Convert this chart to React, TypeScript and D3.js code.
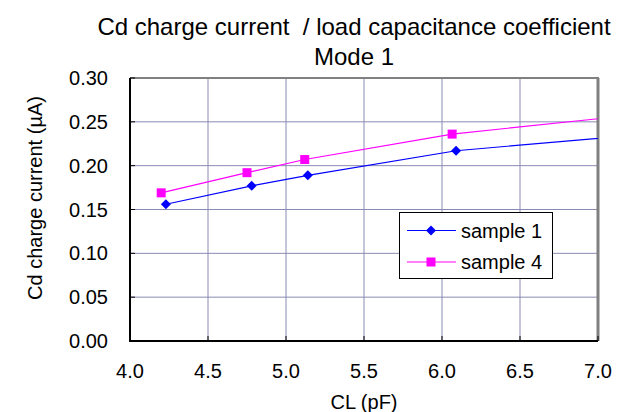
import { useEffect, useRef } from "react"
import * as d3 from "d3"

// CL (pF) values and charge currents (µA)
const sample1X = [4.23, 4.78, 5.14, 6.09, 8.2]
const sample1Y = [0.156, 0.177, 0.189, 0.217, 0.250]
const sample4X = [4.2, 4.75, 5.12, 6.065, 8.2]
const sample4Y = [0.169, 0.192, 0.207, 0.236, 0.276]
const xTicks = [4.0, 4.5, 5.0, 5.5, 6.0, 6.5, 7.0]
const yTicks = [0.0, 0.05, 0.1, 0.15, 0.2, 0.25, 0.3]
const seriesNames = ["sample 1", "sample 4"]

const W = 629
const H = 412
const FONT = "'Liberation Sans', Arial, sans-serif"

export default function App() {
  const ref = useRef<SVGSVGElement>(null)

  useEffect(() => {
    const svg = d3.select(ref.current)
    svg.selectAll("*").remove()

    const left = 130, right = 598, top = 78, bottom = 341

    const x = d3.scaleLinear().domain([4, 7]).range([left, right])
    const y = d3.scaleLinear().domain([0, 0.3]).range([bottom, top])

    svg.append("rect").attr("width", W).attr("height", H).attr("fill", "#ffffff")

    svg.append("defs").append("clipPath")
      .attr("id", "plot-clip")
      .append("rect")
      .attr("x", left).attr("y", top)
      .attr("width", right - left).attr("height", bottom - top)

    // Title
    const title = svg.append("text")
      .attr("x", 354)
      .attr("text-anchor", "middle")
      .attr("font-family", FONT)
      .attr("font-size", 24)
      .attr("fill", "#000")
    title.append("tspan").attr("x", 354).attr("y", 35)
      .attr("xml:space", "preserve")
      .style("white-space", "pre")
      .text("Cd charge current  / load capacitance coefficient")
    title.append("tspan").attr("x", 354).attr("y", 65).text("Mode 1")

    // Gridlines
    const grid = svg.append("g").attr("stroke", "#8a8ab4").attr("stroke-width", 1)
    xTicks.slice(1, -1).forEach(t => {
      grid.append("line")
        .attr("x1", x(t)).attr("x2", x(t))
        .attr("y1", top).attr("y2", bottom)
    })
    yTicks.slice(1, -1).forEach(t => {
      grid.append("line")
        .attr("x1", left).attr("x2", right)
        .attr("y1", y(t)).attr("y2", y(t))
    })

    // Plot frame: gray top/right, black axes
    svg.append("line")
      .attr("x1", left).attr("x2", right + 1)
      .attr("y1", top).attr("y2", top)
      .attr("stroke", "#808080").attr("stroke-width", 2)
    svg.append("line")
      .attr("x1", right).attr("x2", right)
      .attr("y1", top).attr("y2", bottom)
      .attr("stroke", "#808080").attr("stroke-width", 3)
    svg.append("line")
      .attr("x1", left).attr("x2", right)
      .attr("y1", bottom).attr("y2", bottom)
      .attr("stroke", "#000").attr("stroke-width", 2)
    svg.append("line")
      .attr("x1", left).attr("x2", left)
      .attr("y1", top).attr("y2", bottom + 1)
      .attr("stroke", "#000").attr("stroke-width", 2)

    // Inward tick marks
    xTicks.forEach(t => {
      svg.append("line")
        .attr("x1", x(t)).attr("x2", x(t))
        .attr("y1", bottom).attr("y2", bottom - 5)
        .attr("stroke", "#000").attr("stroke-width", 1)
    })
    yTicks.forEach(t => {
      svg.append("line")
        .attr("x1", left).attr("x2", left + 5)
        .attr("y1", y(t)).attr("y2", y(t))
        .attr("stroke", "#000").attr("stroke-width", 1)
    })

    // Tick labels
    svg.append("g")
      .selectAll("text")
      .data(xTicks)
      .join("text")
      .attr("x", d => x(d))
      .attr("y", 378)
      .attr("text-anchor", "middle")
      .attr("font-family", FONT)
      .attr("font-size", 20)
      .text(d => d3.format(".1f")(d))

    svg.append("g")
      .selectAll("text")
      .data(yTicks)
      .join("text")
      .attr("x", 108)
      .attr("y", d => y(d) + 7)
      .attr("text-anchor", "end")
      .attr("font-family", FONT)
      .attr("font-size", 20)
      .text(d => d3.format(".2f")(d))

    // Axis titles
    svg.append("text")
      .attr("x", 364).attr("y", 409)
      .attr("text-anchor", "middle")
      .attr("font-family", FONT).attr("font-size", 20)
      .text("CL (pF)")
    svg.append("text")
      .attr("transform", `translate(42,198) rotate(-90)`)
      .attr("text-anchor", "middle")
      .attr("font-family", FONT).attr("font-size", 20)
      .text("Cd charge current (µA)")

    // Series
    const line = d3.line<[number, number]>()
      .x(d => x(d[0]))
      .y(d => y(d[1]))

    const s1 = sample1X.map((v, i) => [v, sample1Y[i]] as [number, number])
    const s4 = sample4X.map((v, i) => [v, sample4Y[i]] as [number, number])

    const plot = svg.append("g").attr("clip-path", "url(#plot-clip)")

    plot.append("path").datum(s1)
      .attr("d", line).attr("fill", "none")
      .attr("stroke", "#0000ff").attr("stroke-width", 1.2)
    plot.append("path").datum(s4)
      .attr("d", line).attr("fill", "none")
      .attr("stroke", "#ff00ff").attr("stroke-width", 1.2)

    const diamond = (g: d3.Selection<any, any, any, any>, cx: number, cy: number) =>
      g.append("path")
        .attr("d", `M${cx},${cy - 5}L${cx + 5},${cy}L${cx},${cy + 5}L${cx - 5},${cy}Z`)
        .attr("fill", "#0000ff")
    const square = (g: d3.Selection<any, any, any, any>, cx: number, cy: number) =>
      g.append("rect")
        .attr("x", cx - 4.5).attr("y", cy - 4.5)
        .attr("width", 9).attr("height", 9)
        .attr("fill", "#ff00ff")

    s1.forEach(d => diamond(plot, x(d[0]), y(d[1])))
    s4.forEach(d => square(plot, x(d[0]), y(d[1])))

    // Legend
    const lg = svg.append("g")
    lg.append("rect")
      .attr("x", 399.5).attr("y", 212.5)
      .attr("width", 153).attr("height", 66)
      .attr("fill", "#ffffff").attr("stroke", "#000").attr("stroke-width", 1)
    const rows = [
      { name: seriesNames[0], color: "#0000ff", y: 230.5, mark: diamond },
      { name: seriesNames[1], color: "#ff00ff", y: 262, mark: square },
    ]
    rows.forEach(r => {
      lg.append("line")
        .attr("x1", 407).attr("x2", 456)
        .attr("y1", r.y).attr("y2", r.y)
        .attr("stroke", r.color).attr("stroke-width", 1.2)
      r.mark(lg, 431, r.y)
      lg.append("text")
        .attr("x", 461).attr("y", r.y + 7)
        .attr("font-family", FONT).attr("font-size", 20)
        .text(r.name)
    })
  }, [])

  return (
    <svg
      ref={ref}
      width={W}
      height={H}
      style={{ position: "absolute", left: 0, top: 0, display: "block" }}
    />
  )
}
